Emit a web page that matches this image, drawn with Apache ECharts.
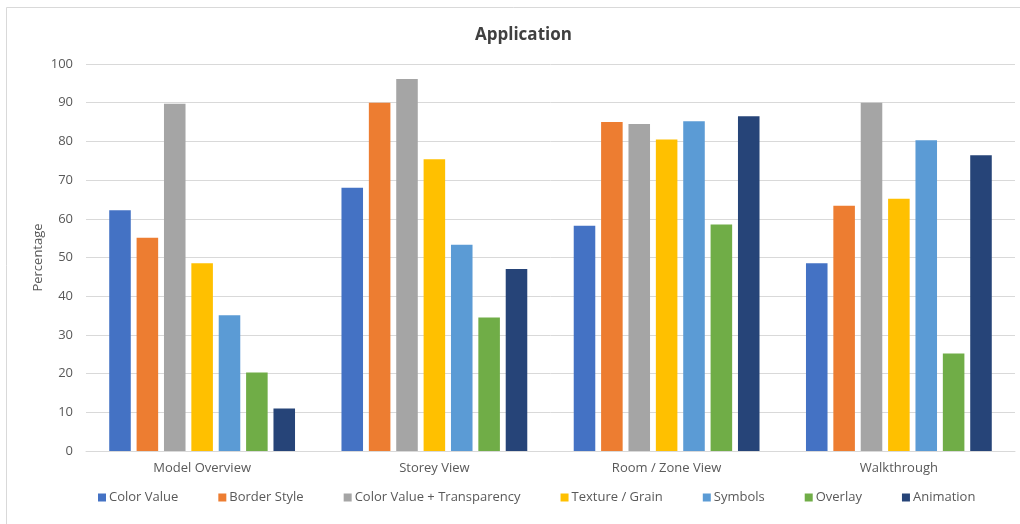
<!DOCTYPE html>
<html><head><meta charset="utf-8">
<script src="https://cdn.jsdelivr.net/npm/echarts@6/dist/echarts.min.js"></script>
<style>html,body{margin:0;padding:0;background:#fff}#c{width:1020px;height:524px}</style>
</head><body><div id="c"></div>
<script>
const categories = ["Model Overview", "Storey View", "Room / Zone View", "Walkthrough"];
const seriesNames = ["Color Value", "Border Style", "Color Value + Transparency", "Texture / Grain", "Symbols", "Overlay", "Animation"];
const colorValue = [62.2, 68.0, 58.2, 48.5];
const borderStyle = [55.1, 90.0, 85.0, 63.4];
const transparency = [89.7, 96.1, 84.5, 90.0];
const texture = [48.5, 75.4, 80.5, 65.2];
const symbols = [35.1, 53.3, 85.2, 80.3];
const overlay = [20.3, 34.5, 58.5, 25.2];
const animation = [11.0, 47.0, 86.5, 76.4];
const seriesData = [colorValue, borderStyle, transparency, texture, symbols, overlay, animation];
const colors = ["#4472C4", "#ED7D31", "#A5A5A5", "#FFC000", "#5B9BD5", "#70AD47", "#264478"];
const yTicks = [0, 10, 20, 30, 40, 50, 60, 70, 80, 90, 100];

const font = "Open Sans";
const chart = echarts.init(document.getElementById('c'));
chart.setOption({
  animation: false,
  backgroundColor: '#fff',
  color: colors,
  title: {
    text: 'Application', left: 470, top: 22,
    textStyle: { fontFamily: font, fontSize: 17, fontWeight: 'bold', color: '#404040' }
  },
  graphic: [
    { type: 'line', shape: { x1: 6.5, y1: 7.5, x2: 6.5, y2: 524 }, style: { stroke: '#d9d9d9', lineWidth: 1 } },
    { type: 'line', shape: { x1: 6.5, y1: 7.5, x2: 1020, y2: 7.5 }, style: { stroke: '#d9d9d9', lineWidth: 1 } }
  ],
  legend: {
    bottom: 15, left: 93, itemWidth: 8, itemHeight: 8, itemGap: 40, icon: 'rect',
    textStyle: { fontFamily: font, fontSize: 13, color: '#595959', padding: [0, 0, 0, -2] },
    data: seriesNames
  },
  grid: { left: 86, right: 5, top: 64, bottom: 73 },
  xAxis: {
    type: 'category', data: categories,
    axisLine: { lineStyle: { color: '#d9d9d9' } },
    axisTick: { show: false },
    axisLabel: { fontFamily: font, fontSize: 13, color: '#595959', margin: 11 }
  },
  yAxis: {
    type: 'value', min: 0, max: 100, interval: 10,
    name: 'Percentage', nameLocation: 'middle', nameGap: 41, nameRotate: 90,
    nameMoveOverlap: false,
    nameTextStyle: { fontFamily: font, fontSize: 13, color: '#595959' },
    axisLine: { show: false }, axisTick: { show: false },
    splitLine: { lineStyle: { color: '#d9d9d9' } },
    axisLabel: { fontFamily: font, fontSize: 13, color: '#595959', margin: 13,
      formatter: v => yTicks.includes(v) ? String(v) : '' }
  },
  series: seriesNames.map((n, i) => ({
    name: n, type: 'bar', data: seriesData[i],
    barGap: '27%', barCategoryGap: '20%'
  }))
});
</script></body></html>
